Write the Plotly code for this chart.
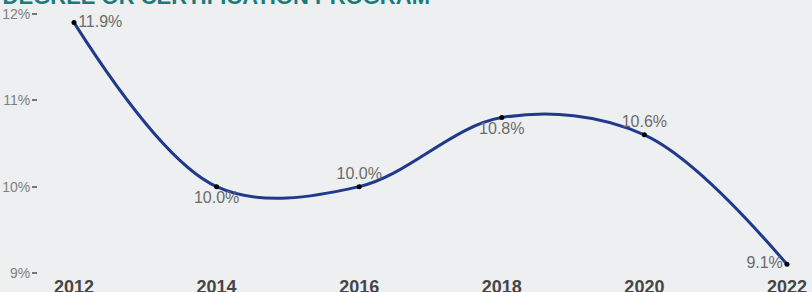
import plotly.graph_objects as go

years = [2012, 2014, 2016, 2018, 2020, 2022]
values = [11.9, 10.0, 10.0, 10.8, 10.6, 9.1]
labels = ["11.9%", "10.0%", "10.0%", "10.8%", "10.6%", "9.1%"]
positions = ["middle right", "bottom center", "top center", "bottom center", "top center", "middle left"]
ytick_vals = [9, 10, 11, 12]
ytick_text = ["9%", "10%", "11%", "12%"]
title_text = "ENROLLED IN A DEGREE OR CERTIFICATION PROGRAM"

fig = go.Figure()
fig.add_trace(go.Scatter(
    x=years, y=values, mode="lines+markers+text",
    line=dict(color="#1f3a8c", width=3, shape="spline", smoothing=1.0),
    marker=dict(color="black", size=5),
    text=labels, textposition=positions,
    textfont=dict(family="Liberation Sans, Arial", size=16, color="#6b6b6b"),
    cliponaxis=False,
    hoverinfo="skip",
))

fig.add_annotation(
    text="<b>" + title_text + "</b>", xref="paper", yref="paper",
    x=(432 - 38) / 774, xanchor="right", y=1.0, yanchor="middle",
    yshift=4, showarrow=False,
    font=dict(family="Liberation Sans, Arial", size=22, color="#1b7b7b"),
)

fig.update_layout(
    width=812, height=292,
    margin=dict(l=38, r=0, t=0, b=18),
    paper_bgcolor="#eeeff1", plot_bgcolor="#eeeff1",
    showlegend=False,
    xaxis=dict(
        range=[2011.495, 2022.351], tickvals=years,
        ticktext=["<b>%d</b>" % y for y in years],
        showgrid=False, zeroline=False, showline=False, automargin=False,
        tickfont=dict(family="Liberation Sans, Arial", size=18, color="#454545"),
        ticks="", ticklabelstandoff=0,
    ),
    yaxis=dict(
        range=[8.988, 12.162], tickvals=ytick_vals, ticktext=ytick_text,
        showgrid=False, zeroline=False, showline=False, automargin=False,
        ticks="outside", ticklen=5, tickwidth=1.5, tickcolor="#777777",
        ticklabelstandoff=-1,
        tickfont=dict(family="Liberation Sans, Arial", size=14, color="#808080"),
    ),
)

fig.write_html("out.html", config={"displayModeBar": False},
               post_script="document.body.style.margin='0';")
